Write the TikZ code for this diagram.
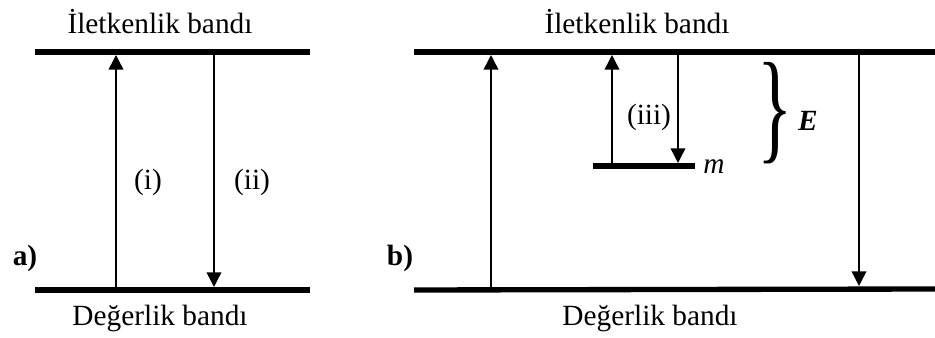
\documentclass[tikz,border=0pt]{standalone}
\usepackage{fontspec}
\setmainfont{Liberation Serif}
\usetikzlibrary{arrows.meta,positioning}
\tikzset{
  band/.style={line width=4pt},
  jump/.style={line width=1.1pt,-{Triangle[length=11pt,width=11pt]}},
  label/.style={font=\fontsize{22}{26}\selectfont,inner sep=0pt},
  tag/.style={label,font=\fontsize{22}{26}\selectfont\bfseries}
}

\begin{document}
\begin{tikzpicture}[x=0.75pt,y=-0.75pt]
  \useasboundingbox (0,0) rectangle (935,338);
  % panel a
  \draw[band] (35,52) -- (310,52);
  \draw[band] (35,290) -- (310,290);
  \coordinate (ai0) at (116,287);
  \coordinate (ai1) at (116,55);
  \coordinate (aii0) at (214,55);
  \coordinate (aii1) at (214,287);
  \draw[jump] (ai0) -- (ai1);
  \draw[jump] (aii0) -- (aii1);
  \node[label] (li) at (148,182) {(i)};
  \node[label] (lii) at (252,182) {(ii)};
  \node[tag] (ta) at (25,258) {a)};
  \node[label] (cba) at (160,22) {İletkenlik bandı};
  \node[label] (vba) at (160,318) {Değerlik bandı};
  % panel b
  \draw[band] (414,52) -- (935,52);
  \draw[band] (414,290) -- (935,289);
  \draw[band] (593,166) -- (695,166);
  \coordinate (b10) at (491,287);
  \coordinate (b11) at (491,55);
  \coordinate (biii0) at (612,163);
  \coordinate (biii1) at (612,55);
  \coordinate (biii2) at (678,55);
  \coordinate (biii3) at (678,163);
  \coordinate (b20) at (859,55);
  \coordinate (b21) at (859,286);
  \draw[jump] (b10) -- (b11);
  \draw[jump] (biii0) -- (biii1);
  \draw[jump] (biii2) -- (biii3);
  \draw[jump] (b20) -- (b21);
  \node[label] (liii) at (649,117) {(iii)};
  \node[label] (lm) at (714,167) {\textit{m}};
  \node[label,font=\fontsize{92}{92}\selectfont] (br) at (775,113)
    {\scalebox{0.6}[1]{\}}};
  \node[label] (le) at (808,121) {\textbf{\textit{E}}};
  \node[tag] (tb) at (400,258) {b)};
  \node[label] (cbb) at (637,22) {İletkenlik bandı};
  \node[label] (vbb) at (650,318) {Değerlik bandı};
\end{tikzpicture}
\end{document}
